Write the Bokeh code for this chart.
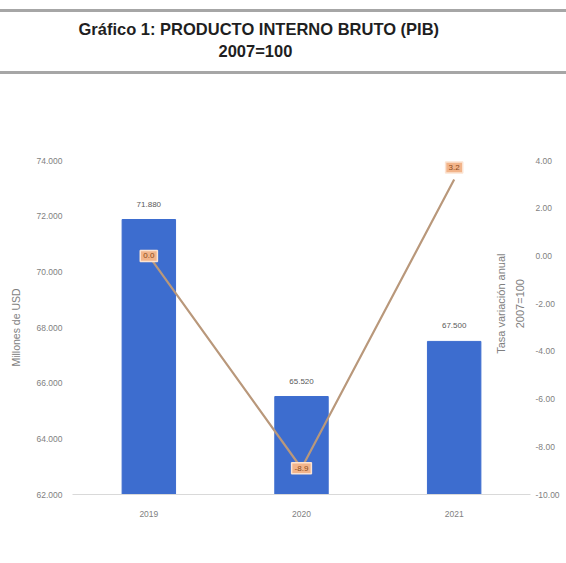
from bokeh.plotting import figure
from bokeh.models import (ColumnDataSource, FactorRange, Range1d, LinearAxis, FixedTicker,
                          CustomJSTickFormatter, Legend, LegendItem, Label, Title, InlineStyleSheet)
from bokeh.core.properties import value
from bokeh.embed import file_html
from bokeh.resources import INLINE
import math

# ---- data ----
years = ["2019", "2020", "2021"]
pib_real = [71880, 65520, 67500]          # millones de USD (2007=100)
tasa_var = [0.0, -8.9, 3.2]               # tasa de variación anual (%)
pib_ticks = [62000, 64000, 66000, 68000, 70000, 72000, 74000]
tasa_ticks = [-10, -8, -6, -4, -2, 0, 2, 4]

FONT = "Liberation Sans"
GRAY = "#7f7f7f"

pib_labels = [f"{v:,.0f}".replace(",", ".") for v in pib_real]
tasa_labels = [f"{v:.1f}" for v in tasa_var]
tasa_label_offsets = [0, 0, -12]

src = ColumnDataSource(dict(year=years, pib=pib_real, pib_lab=pib_labels,
                            tasa=tasa_var, tasa_lab=tasa_labels, off=tasa_label_offsets))

# grey rules around the title block (page decoration)
rules_css = """
:host::before { content: ""; position: absolute; left: 0; top: 9px; width: 100%;
                height: 3px; background: #a6a6a6; z-index: 50; pointer-events: none; }
:host::after  { content: ""; position: absolute; left: 0; top: 71px; width: 100%;
                height: 3px; background: #a6a6a6; z-index: 50; pointer-events: none; }
"""

p = figure(frame_width=458, frame_height=334, x_range=FactorRange(*years),
           y_range=Range1d(pib_ticks[0], pib_ticks[-1]),
           output_backend="svg", toolbar_location=None,
           min_border_top=160, min_border_left=72, min_border_right=36, min_border_bottom=69)
p.stylesheets = [InlineStyleSheet(css=rules_css)]
p.extra_y_ranges = {"pct": Range1d(tasa_ticks[0], tasa_ticks[-1])}
p.outline_line_color = None
p.xgrid.visible = False
p.ygrid.visible = False

# titles: above[0] sits next to the frame, the figure title is outermost
TSTYLE = dict(text_font=FONT, text_font_size="16.5px", text_font_style="bold",
              text_color="#1f1f1f")
p.title.text = "Gráfico 1: PRODUCTO INTERNO BRUTO (PIB)"
p.title.align = "left"
p.title.offset = 6
p.title.standoff = 2
for k, v in TSTYLE.items():
    setattr(p.title, k, v)
p.add_layout(Title(text=" ", align="left", standoff=80, **TSTYLE), "above")
p.add_layout(Title(text="2007=100", align="left", offset=146, standoff=2, **TSTYLE), "above")

bars = p.vbar(x="year", top="pib", width=0.35, source=src, color="#3d6dcf")
p.text(x="year", y="pib", text="pib_lab", source=src, y_offset=-13,
       text_align="center", text_baseline="bottom", text_font_size="8px",
       text_color="#595959", text_font=value(FONT))

line = p.line(x="year", y="tasa", source=src, y_range_name="pct",
              line_color="#b9987b", line_width=2.2)
p.text(x="year", y="tasa", text="tasa_lab", source=src, y_range_name="pct",
       y_offset="off", text_align="center", text_baseline="middle",
       text_font_size="8px", text_color="#8a4a1a", text_font=value(FONT),
       background_fill_color="#f2b48a", border_line_color="#fbe3d2",
       border_line_width=1.5, padding=3)

# axes
ax = p.yaxis[0]
ax.ticker = FixedTicker(ticks=pib_ticks)
ax.formatter = CustomJSTickFormatter(
    code="return tick.toFixed(0).replace(/\\B(?=(\\d{3})+(?!\\d))/g, '.');")
ax.axis_label = "Millones de USD"
ax.axis_label_standoff = 12
ax.axis_label_text_font = FONT
ax.axis_label_text_font_size = "10.5px"
ax.axis_label_text_font_style = "normal"
ax.axis_label_text_color = GRAY

ra = LinearAxis(y_range_name="pct", ticker=FixedTicker(ticks=tasa_ticks),
                formatter=CustomJSTickFormatter(code="return tick.toFixed(2);"))
p.add_layout(ra, "right")
xa = p.xaxis[0]

for a, so in [(ax, 10), (ra, 5), (xa, 16)]:
    a.axis_line_color = None
    a.major_tick_line_color = None
    a.minor_tick_line_color = None
    a.major_tick_out = 0
    a.major_label_standoff = so
    a.major_label_text_font_size = "8.5px"
    a.major_label_text_color = GRAY
    a.major_label_text_font = FONT
xa.axis_line_color = "#d9d9d9"

# secondary axis title, drawn inside the plot area next to the right edge
p.add_layout(Label(x=len(years), x_offset=-20, y=-2.0, y_range_name="pct",
                   text="Tasa variación anual\n2007=100", angle=math.pi / 2,
                   text_align="center", text_baseline="middle", text_line_height=1.6,
                   text_font_size="11px", text_color=GRAY, text_font=FONT))

legend = Legend(items=[LegendItem(label="PIB real", renderers=[bars]),
                       LegendItem(label="tasa variación", renderers=[line])],
                orientation="horizontal", location="top_center",
                label_text_font_size="8px", label_text_color="#595959",
                label_text_font=FONT, glyph_width=15, glyph_height=8,
                label_standoff=3, spacing=10, padding=2, margin=4,
                border_line_color=None, background_fill_alpha=0)
p.add_layout(legend, "below")

open("out.html", "w").write(file_html(p, INLINE))
